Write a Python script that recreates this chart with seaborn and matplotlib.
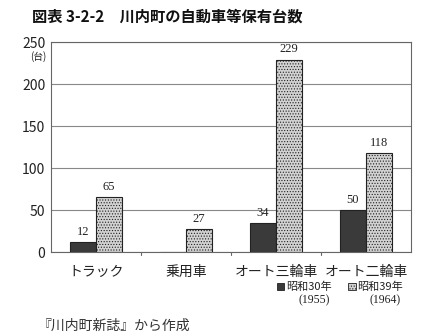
import matplotlib
matplotlib.use("Agg")
import matplotlib.pyplot as plt
import seaborn as sns
import pandas as pd

categories = ["トラック", "乗用車", "オート三輪車", "オート二輪車"]
years = ["昭和30年\n(1955)", "昭和39年\n(1964)"]
values_1955 = [12, 0, 34, 50]
values_1964 = [65, 27, 229, 118]
labels_1955 = ["12", "", "34", "50"]
labels_1964 = ["65", "27", "229", "118"]
yticks = [0, 50, 100, 150, 200, 250]

sns.set_theme(style="white")
plt.rcParams["font.family"] = ["Noto Sans CJK JP", "DejaVu Sans"]
plt.rcParams["hatch.color"] = "#8a8a8a"
plt.rcParams["hatch.linewidth"] = 0.5

df = pd.DataFrame({
    "cat": categories * 2,
    "year": [years[0]] * 4 + [years[1]] * 4,
    "val": values_1955 + values_1964,
})

fig = plt.figure(figsize=(4.45, 3.36), dpi=100)
ax = fig.add_axes([0.1146, 0.25, 0.809, 0.625])

sns.barplot(data=df, x="cat", y="val", hue="year", order=categories,
            hue_order=years, palette=["#3a3a3a", "#d2d2d2"], width=0.58,
            edgecolor="#222222", linewidth=0.8, legend=False, ax=ax)

for bar in ax.containers[1]:
    bar.set_hatch("......")

serif = ["Liberation Serif", "DejaVu Serif"]
for cont, labs in zip(ax.containers, [labels_1955, labels_1964]):
    ax.bar_label(cont, labels=labs, padding=3, fontsize=9,
                 family=serif, color="#222222")

ax.set_ylim(0, 250)
ax.set_yticks(yticks)
ax.set_yticklabels([str(v) for v in yticks], fontsize=10, color="#222222")
ax.set_xlim(-0.5, 3.5)
ax.set_xlabel("")
ax.set_ylabel("")
ax.tick_params(axis="x", labelsize=10, length=0, pad=9, colors="#222222")
ax.tick_params(axis="y", length=0, pad=4)
ax.yaxis.grid(True, color="#888888", linewidth=0.8)
ax.set_axisbelow(True)
for s in ax.spines.values():
    s.set_color("#666666")
    s.set_linewidth(0.8)
for xb in [0.5, 1.5, 2.5]:
    ax.plot([xb, xb], [0, -3], color="#666666", lw=0.8, clip_on=False)

fig.text(0.085, 0.822, "(台)", fontsize=7, ha="center", color="#222222")

fig.text(0.072, 0.952, "図表 3-2-2　川内町の自動車等保有台数", fontsize=11,
         fontweight="bold", ha="left", va="center", color="#111111")

# legend entries under the category labels
for xc, col, hatch, yr in [(0.705, "#3a3a3a", None, years[0]),
                           (0.865, "#d2d2d2", "......", years[1])]:
    name, yy = yr.split("\n")
    sq = plt.Rectangle((xc - 0.082, 0.137), 0.016, 0.021, transform=fig.transFigure,
                       facecolor=col, edgecolor="#222222", lw=0.6, hatch=hatch)
    fig.add_artist(sq)
    fig.text(xc - 0.062, 0.147, name, fontsize=8, ha="left", va="center", color="#222222")
    fig.text(xc, 0.107, yy, fontsize=8.5, ha="center", va="center", color="#222222",
             family=serif)

fig.text(0.085, 0.03, "『川内町新誌』から作成", fontsize=10, ha="left", va="center",
         color="#333333")

fig.savefig("out.png", dpi=100)
